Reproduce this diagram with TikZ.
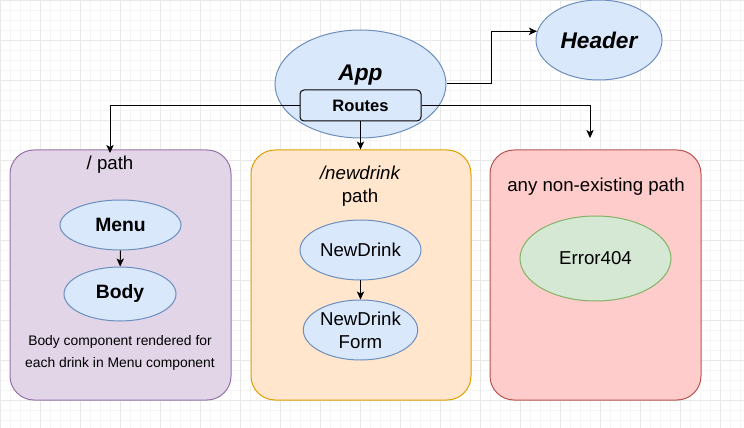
\documentclass[tikz,border=0pt]{standalone}
\usepackage{fontspec}
\setmainfont{Liberation Sans}
\usepackage{tikz}
\usetikzlibrary{arrows.meta,shapes.geometric}
\definecolor{bluefill}{HTML}{DAE8FC}
\definecolor{bluedraw}{HTML}{6C8EBF}
\definecolor{purpfill}{HTML}{E1D5E7}
\definecolor{purpdraw}{HTML}{9673A6}
\definecolor{orngfill}{HTML}{FFE6CC}
\definecolor{orngdraw}{HTML}{E0A000}
\definecolor{redfill}{HTML}{FFCCCC}
\definecolor{reddraw}{HTML}{B85450}
\definecolor{grnfill}{HTML}{D5E8D4}
\definecolor{grndraw}{HTML}{82B366}
\definecolor{gridmajor}{HTML}{E8E8E8}
\definecolor{gridminor}{HTML}{F5F5F5}

\begin{document}
\begin{tikzpicture}[x=0.75pt, y=-0.75pt, line width=0.75pt,
    enode/.style={draw=bluedraw, fill=bluefill, ellipse, inner sep=0pt, font=\fontsize{14}{17}\selectfont},
    pbox/.style={rounded corners=18pt, minimum height=187.5pt, inner sep=0pt},
    ptext/.style={font=\fontsize{14}{17}\selectfont, align=center},
    arr/.style={-{Stealth[length=6pt,width=5.5pt,inset=1.5pt]}}]
    \useasboundingbox (0,0) rectangle (744,428);
    % background grid
    \foreach \i in {0,10,...,740} \draw[gridminor, line width=0.5pt] (\i,0) -- (\i,428);
    \foreach \j in {0,10,...,420} \draw[gridminor, line width=0.5pt] (0,\j) -- (744,\j);
    \foreach \i in {0,40,...,720} \draw[gridmajor, line width=0.6pt] (\i,0) -- (\i,428);
    \foreach \j in {0,40,...,400} \draw[gridmajor, line width=0.6pt] (0,\j) -- (744,\j);

    % route containers
    \node[pbox, draw=purpdraw, fill=purpfill, minimum width=165.75pt] (root) at (120.5,275) {};
    \node[pbox, draw=orngdraw, fill=orngfill, minimum width=165pt] (drink) at (361,275) {};
    \node[pbox, draw=reddraw, fill=redfill, minimum width=158.25pt] (miss) at (595.5,275) {};

    \node[ptext] (rootl) at (110,165) {/ path};
    \node[ptext] (drinkl) at (360,186.5) {\itshape /newdrink\\path};
    \node[ptext] (missl) at (596,187) {any non-existing path};

    % top components
    \node[enode, minimum width=128.25pt, minimum height=81pt] (App) at (360.5,84) {};
    \node (appl) at (360.5,75) {\fontsize{17}{20}\selectfont\bfseries\itshape App};
    \node[draw=black, fill=bluefill, rounded corners=3pt, minimum width=90.75pt, minimum height=23.25pt, inner sep=0pt,
          font=\fontsize{12.4}{15}\selectfont\bfseries] (Routes) at (360.5,105.5) {Routes};
    \node[enode, minimum width=94.5pt, minimum height=60pt, font=\fontsize{17}{20}\selectfont\bfseries\itshape] (Header) at (599,40) {Header};

    % inner components
    \node[enode, minimum width=90.75pt, minimum height=37.5pt, font=\fontsize{14.5}{17}\selectfont\bfseries] (Menu) at (120.5,225) {Menu};
    \node[enode, minimum width=84pt, minimum height=40.5pt, font=\fontsize{14.5}{17}\selectfont\bfseries] (Body) at (120,294) {Body};
    \node[font=\fontsize{10.4}{16.5}\selectfont, align=center] (note) at (120,353) {Body component rendered for\\each drink in Menu component};
    \node[enode, minimum width=90.75pt, minimum height=45pt] (NewDrink) at (360.5,250) {NewDrink};
    \node[enode, minimum width=75.75pt, minimum height=45pt, align=center] (Form) at (360.5,330) {NewDrink\\Form};
    \node[enode, draw=grndraw, fill=grnfill, minimum width=113.25pt, minimum height=63.75pt] (Error) at (595.5,258.5) {Error404};

    \coordinate (hdrBend) at (491,84);
    \coordinate (rootEnd) at (110,153);
    \coordinate (missEnd) at (590,138);

    \draw[arr] (App.east) -- (hdrBend) |- (Header.172);
    \draw[arr] (Routes.west) -| (rootEnd);
    \draw[arr] (Routes.south) -- (Routes.south |- drink.north);
    \draw[arr] (Routes.east) -| (missEnd);
    \draw[arr] (Menu) -- (Body);
    \draw[arr] (NewDrink) -- (Form);
\end{tikzpicture}
\end{document}
